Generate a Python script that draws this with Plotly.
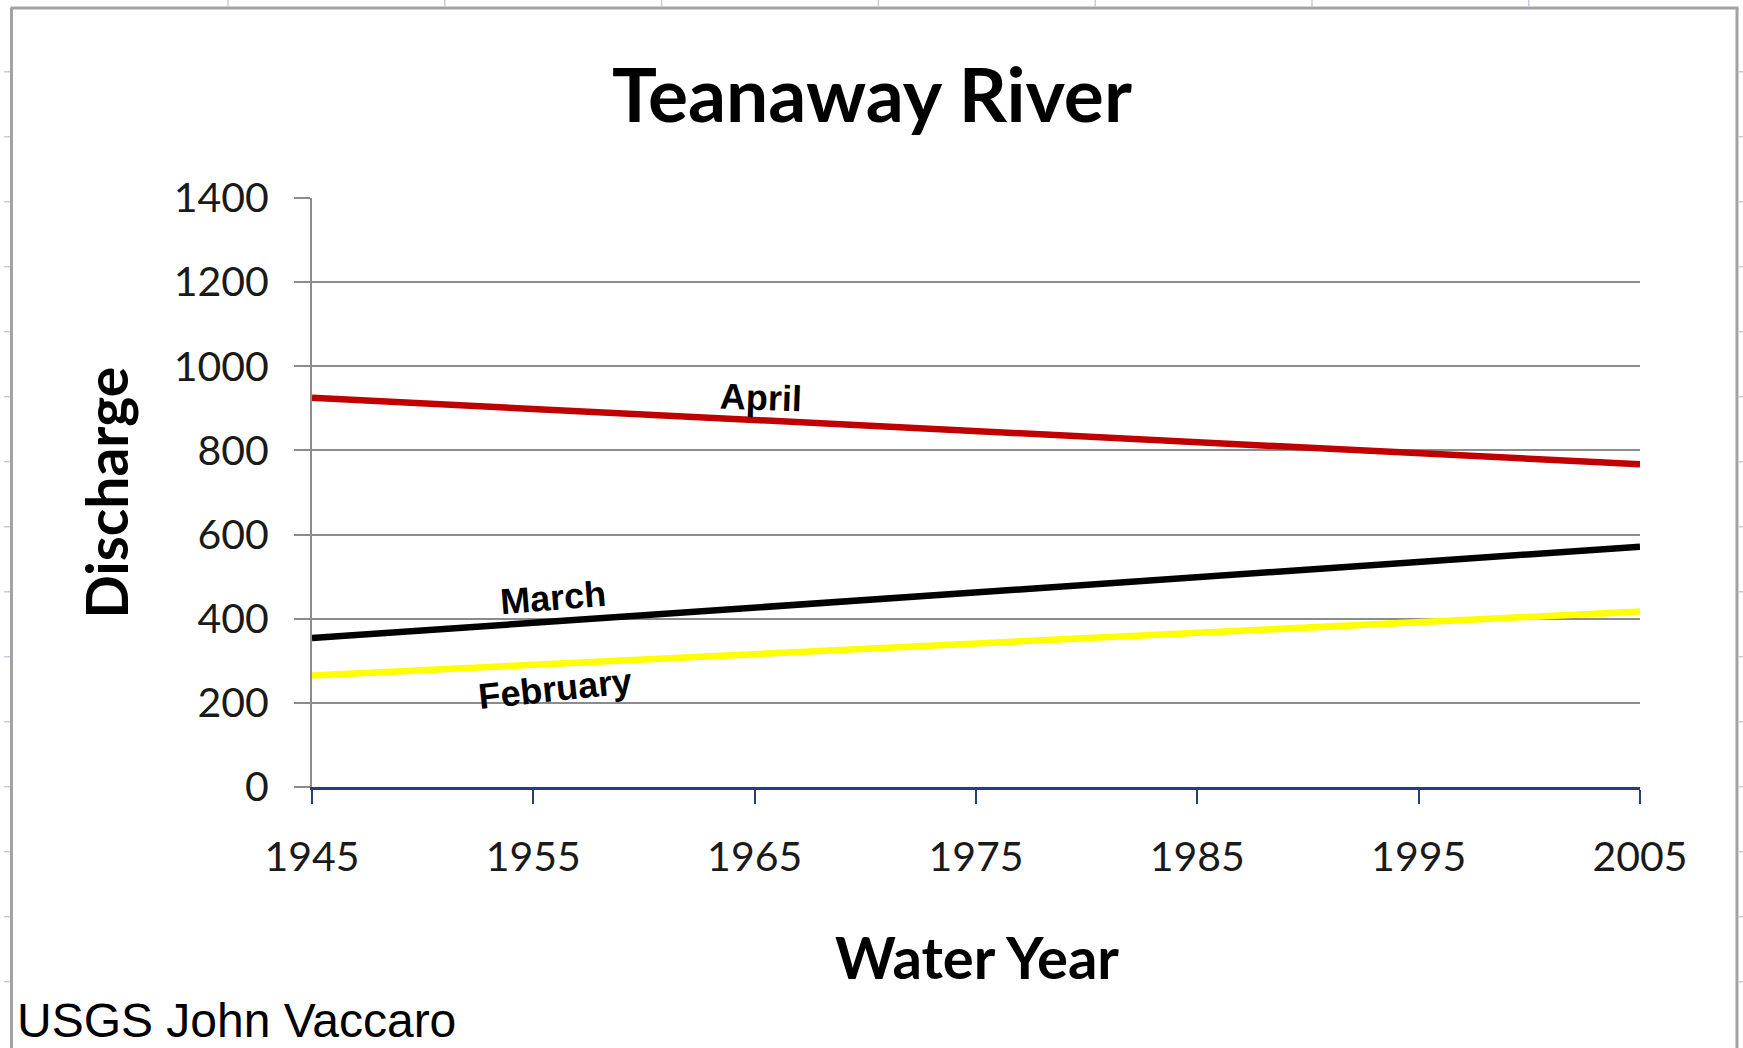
import plotly.graph_objects as go

# ---- data ----
years = [1945, 2005]
february = [265, 417]
march = [354, 571]
april = [925, 767]
series_names = ["February", "March", "April"]
series_colors = ["#FFFF00", "#000000", "#C00000"]
x_ticks = [1945, 1955, 1965, 1975, 1985, 1995, 2005]
y_ticks = [0, 200, 400, 600, 800, 1000, 1200, 1400]
title_text = "Teanaway River"
x_title = "Water Year"
y_title = "Discharge"
credit = "USGS John Vaccaro"

# ---- geometry (pixels) ----
W, H = 1743, 1048
L, R, T, B = 312, 1640, 198, 787


def px(xp):
    return (xp - L) / (R - L)


def py(yp):
    return (B - yp) / (B - T)


fig = go.Figure()
for name, vals, col in zip(series_names, [february, march, april], series_colors):
    fig.add_trace(go.Scatter(
        x=years, y=vals, mode="lines", name=name,
        line=dict(color=col, width=6.5),
        showlegend=False, hoverinfo="skip",
    ))

fig.update_layout(
    width=W, height=H,
    margin=dict(l=L, r=W - R, t=T, b=H - B, pad=0),
    paper_bgcolor="white", plot_bgcolor="white",
    showlegend=False,
)

fig.update_xaxes(
    range=[1945, 2005], tickvals=x_ticks, ticktext=[str(v) for v in x_ticks],
    showgrid=False, zeroline=False,
    showline=True, linecolor="#243f78", linewidth=2.5,
    ticks="outside", ticklen=14, tickwidth=2, tickcolor="#243f78",
    tickfont=dict(family="Lato", size=41, color="#1a1a1a"),
    ticklabelstandoff=18,
)
fig.update_yaxes(
    range=[0, 1400], tickvals=y_ticks,
    showgrid=True, gridcolor="#8c8c8c", gridwidth=2, zeroline=False,
    showline=True, linecolor="#8c8c8c", linewidth=2,
    ticks="outside", ticklen=16, tickwidth=2, tickcolor="#8c8c8c",
    tickfont=dict(family="Lato", size=41, color="#1a1a1a"),
    ticklabelstandoff=17,
)

annotations = [
    dict(x=px(872), y=py(93), xref="paper", yref="paper", text=title_text,
         font=dict(family="Lato", size=75, color="black", weight="bold"),
         xanchor="center", yanchor="middle", showarrow=False),
    dict(x=px(106), y=py(492.6), xref="paper", yref="paper", text=y_title,
         textangle=-90,
         font=dict(family="Lato", size=57, color="black", weight="bold"),
         xanchor="center", yanchor="middle", showarrow=False),
    dict(x=px(977), y=py(956.6), xref="paper", yref="paper", text=x_title,
         font=dict(family="Lato", size=58, color="black", weight="bold"),
         xanchor="center", yanchor="middle", showarrow=False),
    dict(x=px(15), y=py(1020), xref="paper", yref="paper", text=credit,
         font=dict(family="Liberation Sans", size=48, color="black"),
         xanchor="left", yanchor="middle", showarrow=False),
    dict(x=1965.3, y=927, xref="x", yref="y", text="April", textangle=2,
         font=dict(family="Liberation Sans", size=36, color="black", weight="bold"),
         xanchor="center", yanchor="middle", showarrow=False),
    dict(x=1955.9, y=450, xref="x", yref="y", text="March", textangle=-4.5,
         font=dict(family="Liberation Sans", size=36, color="black", weight="bold"),
         xanchor="center", yanchor="middle", showarrow=False),
    dict(x=1956.0, y=235, xref="x", yref="y", text="February", textangle=-6,
         font=dict(family="Liberation Sans", size=36, color="black", weight="bold"),
         xanchor="center", yanchor="middle", showarrow=False),
]
fig.update_layout(annotations=annotations)

# ---- decorative frame (spreadsheet cell border) ----
shapes = []
frame_col = "#a3a3a3"
shapes.append(dict(type="line", xref="paper", yref="paper",
                   x0=px(10.5), x1=px(1738.5), y0=py(8), y1=py(8),
                   line=dict(color=frame_col, width=3)))
shapes.append(dict(type="line", xref="paper", yref="paper",
                   x0=px(11.5), x1=px(11.5), y0=py(8), y1=py(1050),
                   line=dict(color=frame_col, width=3)))
shapes.append(dict(type="line", xref="paper", yref="paper",
                   x0=px(1737), x1=px(1737), y0=py(8), y1=py(1050),
                   line=dict(color=frame_col, width=3)))
tick_col = "#c3cde0"
for k in range(15):
    yy = 71.7 + 65 * k
    shapes.append(dict(type="line", xref="paper", yref="paper",
                       x0=px(4), x1=px(10), y0=py(yy), y1=py(yy),
                       line=dict(color=tick_col, width=1.5)))
    shapes.append(dict(type="line", xref="paper", yref="paper",
                       x0=px(1738.5), x1=px(1743), y0=py(yy), y1=py(yy),
                       line=dict(color=tick_col, width=1.5)))
for k in range(7):
    xx = 228 + 216.8 * k
    shapes.append(dict(type="line", xref="paper", yref="paper",
                       x0=px(xx), x1=px(xx), y0=py(0), y1=py(6.5),
                       line=dict(color=tick_col, width=1.5)))
fig.update_layout(shapes=shapes)

fig.write_html(
    "out.html",
    config={"displayModeBar": False},
    post_script="document.body.style.margin='0px';document.body.style.overflow='hidden';",
)
